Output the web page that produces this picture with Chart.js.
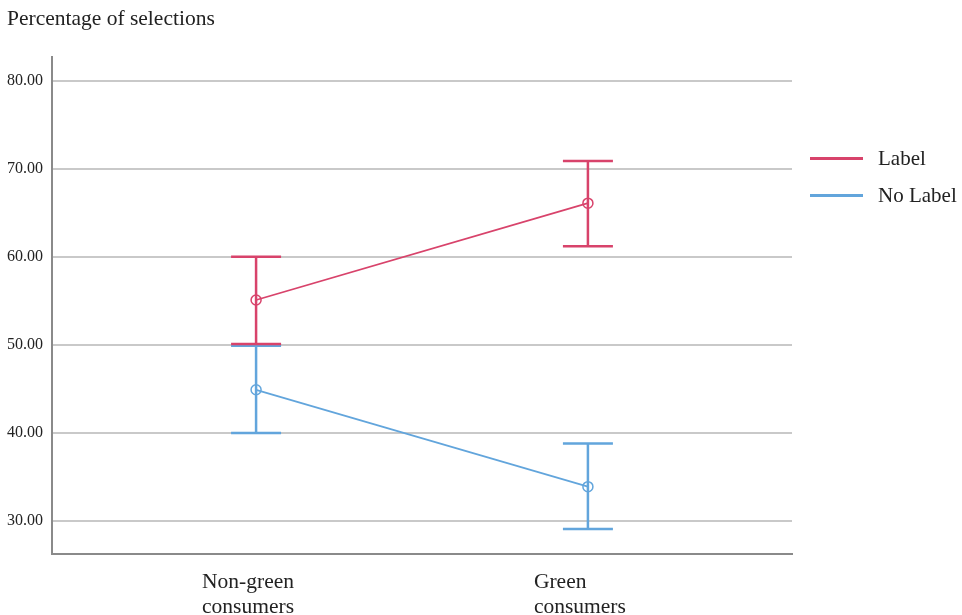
<!DOCTYPE html>
<html>
<head>
<meta charset="utf-8">
<script src="https://cdn.jsdelivr.net/npm/chart.js@4/dist/chart.umd.min.js"></script>
<style>
  html, body { margin: 0; padding: 0; background: #fff; }
  #wrap { position: relative; width: 962px; height: 615px; }
  #title { position: absolute; left: 7px; top: 5px; font-family: 'Liberation Serif', 'DejaVu Serif', serif; font-size: 21.5px; color: #222; line-height: 26px; }
  #legend { position: absolute; left: 810px; top: 140px; font-family: 'Liberation Serif', 'DejaVu Serif', serif; font-size: 21px; color: #222; }
  #legend div { display: flex; align-items: center; height: 37px; }
  #legend span.sw { display: inline-block; width: 53px; height: 2.5px; margin-right: 15px; }
</style>
</head>
<body>
<div id="wrap">
  <canvas id="chart" width="962" height="615"></canvas>
  <div id="title">Percentage of selections</div>
  <div id="legend"></div>
</div>
<script>
// Datos
const categorias = [['Non-green', 'consumers'], ['Green', 'consumers']];
const series = ['Label', 'No Label'];
const mediaLabel = [55.1, 66.1];
const bajoLabel = [50.1, 61.2];
const altoLabel = [60.0, 70.9];
const mediaNoLabel = [44.9, 33.9];
const bajoNoLabel = [40.0, 29.1];
const altoNoLabel = [49.9, 38.8];
const ticksY = [30, 40, 50, 60, 70, 80];

const COLORS = {
    label:   '#d8436b',
    noLabel: '#62a5dc',
    grid:    '#c9c9c9',
    axis:    '#8a8a8a',
    text:    '#222222',
};
const FONT = "'Liberation Serif', 'DejaVu Serif', serif";

const puntos = arr => arr.map((v, i) => ({ x: i, y: v }));

// Barras de error dibujadas con las escalas de Chart.js
const errorBars = {
    id: 'errorBars',
    beforeDatasetsDraw(chart) {
        const { ctx, scales: { x, y } } = chart;
        const grupos = [
            { bajo: bajoNoLabel, alto: altoNoLabel, color: COLORS.noLabel },
            { bajo: bajoLabel, alto: altoLabel, color: COLORS.label },
        ];
        ctx.save();
        ctx.lineWidth = 2.5;
        grupos.forEach(g => {
            ctx.strokeStyle = g.color;
            g.bajo.forEach((b, i) => {
                const px = x.getPixelForValue(i);
                const y1 = y.getPixelForValue(b);
                const y2 = y.getPixelForValue(g.alto[i]);
                ctx.beginPath();
                ctx.moveTo(px, y1); ctx.lineTo(px, y2);
                ctx.moveTo(px - 25, y1); ctx.lineTo(px + 25, y1);
                ctx.moveTo(px - 25, y2); ctx.lineTo(px + 25, y2);
                ctx.stroke();
            });
        });
        ctx.restore();
    }
};

const lineDs = (label, data, color) => ({
    label,
    data: puntos(data),
    borderColor: color,
    backgroundColor: 'rgba(255,255,255,0)',
    borderWidth: 1.8,
    pointRadius: 5,
    pointBorderWidth: 1.5,
    pointBackgroundColor: 'rgba(255,255,255,0)',
    pointBorderColor: color,
    tension: 0,
});

new Chart(document.getElementById('chart'), {
    type: 'line',
    data: {
        datasets: [
            lineDs(series[0], mediaLabel, COLORS.label),
            lineDs(series[1], mediaNoLabel, COLORS.noLabel),
        ]
    },
    plugins: [errorBars],
    options: {
        responsive: false,
        animation: false,
        layout: { padding: { left: 0, right: 170, top: 57, bottom: 0 } },
        plugins: {
            legend: { display: false },
            tooltip: { enabled: false }
        },
        scales: {
            x: {
                type: 'linear',
                min: -0.615,
                max: 1.615,
                afterBuildTicks: s => { s.ticks = categorias.map((c, i) => ({ value: i })); },
                afterFit: s => { s.height = 61; },
                ticks: {
                    color: COLORS.text,
                    font: { family: FONT, size: 21.5, lineHeight: 1.15 },
                    padding: 16,
                    maxRotation: 0,
                    align: 'start',
                    labelOffset: -54,
                    callback: v => categorias[v]
                },
                grid: { display: false, drawTicks: false },
                border: { color: COLORS.axis, width: 2 }
            },
            y: {
                min: 26.25,
                max: 82.7,
                afterBuildTicks: s => { s.ticks = ticksY.map(v => ({ value: v })); },
                afterFit: s => { s.width = 52; },
                ticks: {
                    color: COLORS.text,
                    font: { family: FONT, size: 16 },
                    padding: 9,
                    callback: v => v.toFixed(2)
                },
                grid: { color: COLORS.grid, lineWidth: 2, drawTicks: false },
                border: { color: COLORS.axis, width: 2 }
            }
        }
    }
});

// Leyenda en HTML
const leyenda = document.getElementById('legend');
[[series[0], COLORS.label], [series[1], COLORS.noLabel]].forEach(([t, c]) => {
    const d = document.createElement('div');
    d.innerHTML = '<span class="sw" style="background:' + c + '"></span>' + t;
    leyenda.appendChild(d);
});
</script>
</body>
</html>
